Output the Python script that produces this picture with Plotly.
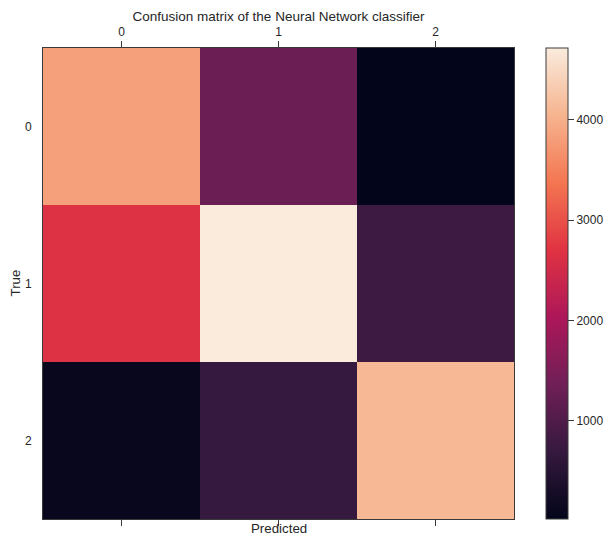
import plotly.graph_objects as go

# Data
true_labels = ["0", "1", "2"]
pred_labels = ["0", "1", "2"]
matrix = [
    [3830, 1290, 20],
    [2650, 4716, 770],
    [95, 690, 4100],
]
cbar_ticks = [1000, 2000, 3000, 4000]

rocket = [
    [0.0, "#03051a"],
    [1/7, "#35193e"],
    [2/7, "#701f57"],
    [3/7, "#ad1759"],
    [4/7, "#e13342"],
    [5/7, "#f37651"],
    [6/7, "#f6b48f"],
    [1.0, "#faebdd"],
]

W, H = 605, 536
L, R, T, B = 43, 91, 48, 17
pw = W - L - R

txt = "#262626"
line = "#3a3a3a"

fig = go.Figure(go.Heatmap(
    z=matrix,
    x=[0, 1, 2],
    y=[0, 1, 2],
    colorscale=rocket,
    colorbar=dict(
        x=(546 - L) / pw, xanchor="left", xref="paper",
        y=0.5, yanchor="middle", len=1.0, lenmode="fraction",
        thickness=22, outlinewidth=1, outlinecolor=line,
        tickvals=cbar_ticks, ticks="outside", ticklen=6,
        tickcolor=line, tickfont=dict(size=12, color=txt),
        xpad=0, ypad=0,
    ),
    hoverinfo="skip",
))

fig.update_layout(
    width=W, height=H,
    margin=dict(l=L, r=R, t=T, b=B, autoexpand=False),
    paper_bgcolor="white", plot_bgcolor="white",
    font=dict(family="Liberation Sans, Arial, sans-serif", size=12, color=txt),
    title=dict(text="Confusion matrix of the Neural Network classifier",
               x=(L + pw / 2) / W, xanchor="center", y=1 - 16 / H,
               yanchor="middle", font=dict(size=13.5, color=txt)),
    xaxis=dict(side="top", range=[-0.5, 2.5], tickvals=[0, 1, 2],
               ticktext=pred_labels, ticks="outside", ticklen=6,
               tickcolor=line, showline=True, linecolor=line, linewidth=1,
               mirror="ticks", showgrid=False, zeroline=False,
               tickfont=dict(size=12, color=txt)),
    yaxis=dict(range=[2.5, -0.5], tickvals=[0, 1, 2], ticktext=true_labels,
               ticks="", showline=True, linecolor=line, linewidth=1,
               mirror=True, showgrid=False, zeroline=False, ticklabelstandoff=8,
               tickfont=dict(size=12, color=txt)),
    annotations=[
        dict(text="Predicted", xref="paper", yref="paper", x=0.5,
             y=-9 / 471, xanchor="center", yanchor="middle",
             showarrow=False, font=dict(size=13.3, color=txt)),
        dict(text="True", xref="paper", yref="paper", x=-28 / 471,
             y=0.5, xanchor="center", yanchor="middle", textangle=-90,
             showarrow=False, font=dict(size=13.3, color=txt)),
    ],
)

fig.write_html("out.html", config={"displayModeBar": False},
               post_script="document.body.style.margin='0';document.body.style.overflow='hidden';")
